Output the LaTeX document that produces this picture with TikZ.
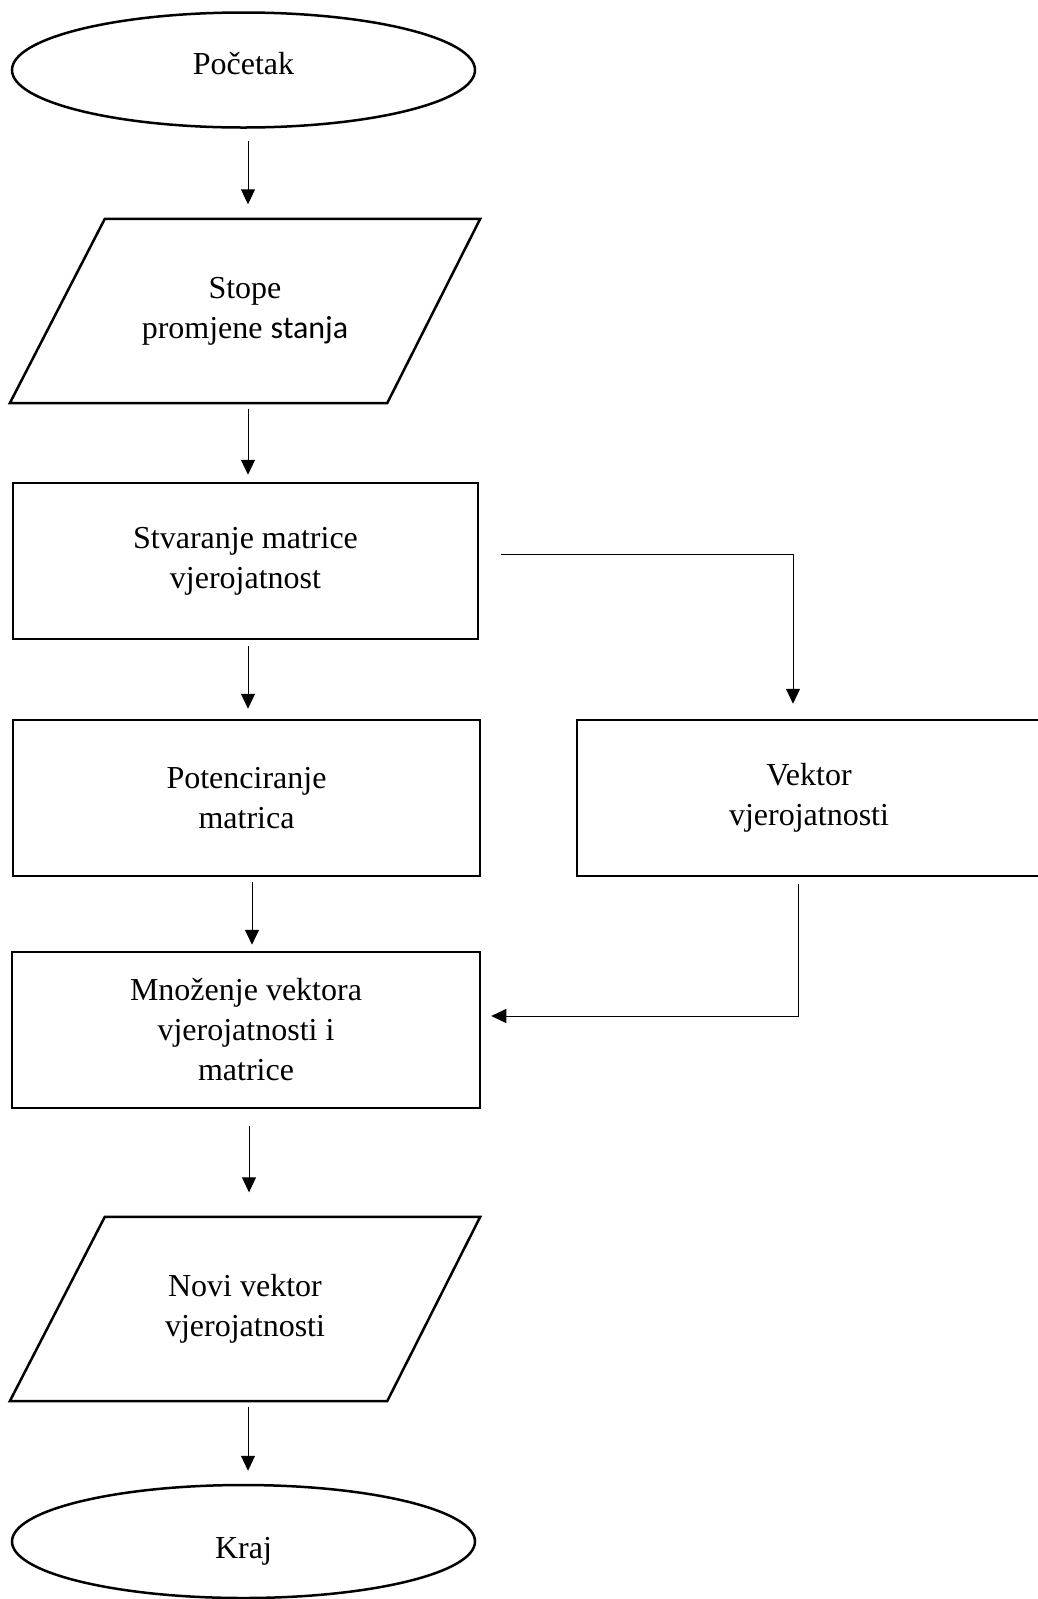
\documentclass[tikz,border=0pt]{standalone}
\usepackage{fontspec}
\setmainfont{Liberation Serif}
\newfontfamily\calibrifont{Carlito}
\usetikzlibrary{shapes.geometric,arrows.meta,calc}
\tikzset{
  txt/.style={font=\fontsize{32}{40}\selectfont, align=center},
  term/.style={font=\fontsize{32}{40}\selectfont, ellipse, draw, line width=2.5pt, minimum width=463pt, minimum height=115pt, inner sep=0pt},
  boxnode/.style={txt, rectangle, draw, line width=2.5pt, inner sep=0pt},
  iobox/.style={txt, rectangle, inner sep=0pt, minimum width=470pt, minimum height=187pt},
  ioline/.style={line width=2.5pt, line join=miter},
  arr/.style={line width=1pt, -{Triangle[length=15pt,width=14pt]}}
}
\begin{document}
\begin{tikzpicture}[x=1pt,y=-1pt]
\useasboundingbox (0,0) rectangle (1038,1599);

% nodes
\node[term] (start) at (243.5,70) {\raisebox{-4pt}[0pt][0pt]{Početak}};

\node[iobox] (p1) at (245,311) {Stope\\promjene {\calibrifont stanja}};
\draw[ioline] ($(p1.south west)+(0,-1.5)$) -- ($(p1.north west)+(95,1.5)$) -- ($(p1.north east)+(0,1.5)$) -- ($(p1.south east)+(-93,-1.5)$) -- cycle;

\node[boxnode, minimum width=465pt, minimum height=156pt] (s) at (245.5,561) {Stvaranje matrice\\vjerojatnost};

\node[boxnode, minimum width=467pt, minimum height=156pt] (p) at (246.5,798) {Potenciranje\\matrica};

\node[boxnode, minimum width=464pt, minimum height=156pt] (v) at (809,798) {Vektor\\vjerojatnosti};

\node[boxnode, minimum width=468pt, minimum height=156pt] (m) at (246,1030) {Množenje vektora\\vjerojatnosti i\\matrice};

\node[iobox] (p2) at (245,1309) {Novi vektor\\vjerojatnosti};
\draw[ioline] ($(p2.south west)+(0,-1.5)$) -- ($(p2.north west)+(95,1.5)$) -- ($(p2.north east)+(0,1.5)$) -- ($(p2.south east)+(-93,-1.5)$) -- cycle;

\node[term, minimum height=113pt] (end) at (243.5,1541.5) {\raisebox{-16.5pt}[0pt][0pt]{Kraj}};

% helper coordinates
\coordinate (c1) at (248,0);
\coordinate (c4) at (252,0);
\coordinate (c5) at (249,0);
\coordinate (k1) at (793,554);
\coordinate (k2) at (798,1016);

% connectors
\draw[arr, shorten <=12pt, shorten >=13pt] (start.south -| c1) -- (p1.north -| c1);
\draw[arr, shorten <=4pt, shorten >=7pt] (p1.south -| c1) -- (s.north -| c1);
\draw[arr, shorten <=6pt, shorten >=10pt] (s.south -| c1) -- (p.north -| c1);
\draw[arr, shorten <=5pt, shorten >=6pt] (p.south -| c4) -- (m.north -| c4);
\draw[arr, shorten <=17pt, shorten >=23pt] (m.south -| c5) -- (p2.north -| c5);
\draw[arr, shorten <=4pt, shorten >=13pt] (p2.south -| c1) -- (end.north -| c1);

\draw[arr, shorten <=22pt, shorten >=15pt] (s.east |- k1) -- (k1) -- (k1 |- v.north);
\draw[arr, shorten <=7pt, shorten >=10pt] (v.south -| k2) -- (k2) -- (m.east |- k2);
\end{tikzpicture}
\end{document}
